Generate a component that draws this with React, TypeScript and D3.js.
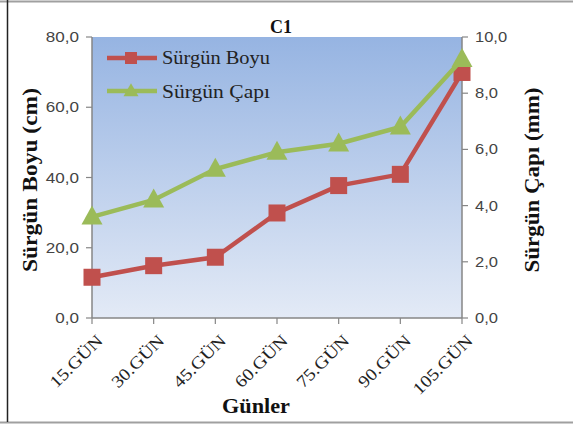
import React from "react";
import * as d3 from "d3";

const categories = ["15.GÜN", "30.GÜN", "45.GÜN", "60.GÜN", "75.GÜN", "90.GÜN", "105.GÜN"];
const boyuValues = [11.6, 14.9, 17.3, 29.9, 37.7, 40.9, 69.9];
const capValues = [3.6, 4.2, 5.3, 5.9, 6.2, 6.8, 9.2];
const leftTicks = [0, 20, 40, 60, 80];
const rightTicks = [0, 2, 4, 6, 8, 10];
const seriesNames = ["Sürgün Boyu", "Sürgün Çapı"];

const W = 573, H = 426;
const L = 92, R = 462, T = 37, B = 318;
const red = "#C0504D", green = "#9BBB59";
const axisCol = "#868686";
const sans = "'Liberation Sans', Arial, sans-serif";
const serif = "'Liberation Serif', 'Times New Roman', serif";

export default function App() {
  const x = d3.scalePoint<string>().domain(categories).range([L, R]);
  const yL = d3.scaleLinear().domain([0, 80]).range([B, T]);
  const yR = d3.scaleLinear().domain([0, 10]).range([B, T]);
  const lineL = d3.line<number>().x((_, i) => x(categories[i])!).y((d) => yL(d));
  const lineR = d3.line<number>().x((_, i) => x(categories[i])!).y((d) => yR(d));
  const tri = (w: number, h: number) => `M0,${-h * 0.6}L${w / 2},${h * 0.4}L${-w / 2},${h * 0.4}Z`;
  const sq = 17;
  const fmt = (v: number) => v.toFixed(1).replace(".", ",");

  return (
    <svg width={W} height={H} style={{ position: "absolute", left: 0, top: 0, background: "#fff" }}>
      <defs>
        <linearGradient id="bg" x1="0" y1="0" x2="0" y2="1">
          <stop offset="0" stopColor="#96B4E2" />
          <stop offset="1" stopColor="#E3EAF6" />
        </linearGradient>
      </defs>
      <rect x={0} y={0} width={W} height={H} fill="#fff" />
      <line x1={0} x2={W} y1={1.5} y2={1.5} stroke="#a0a0a0" strokeWidth={2} />
      <line x1={0} x2={W} y1={422.5} y2={422.5} stroke="#a0a0a0" strokeWidth={2} />
      <line x1={7.5} x2={7.5} y1={0} y2={422} stroke="#222" strokeWidth={1.5} />

      <rect x={L} y={T} width={R - L} height={B - T} fill="url(#bg)" />

      <line x1={L} x2={L} y1={T} y2={B} stroke={axisCol} strokeWidth={1.5} />
      <line x1={R} x2={R} y1={T} y2={B} stroke={axisCol} strokeWidth={1.5} />
      <line x1={L} x2={R} y1={B} y2={B} stroke={axisCol} strokeWidth={1.5} />
      {leftTicks.map((t) => (
        <g key={"l" + t}>
          <line x1={L - 6} x2={L} y1={yL(t)} y2={yL(t)} stroke={axisCol} strokeWidth={1.2} />
          <text transform={`translate(${L - 13},${yL(t) + 5}) scale(1.22,1)`} textAnchor="end" fontFamily={sans} fontSize={14} fill="#444">{fmt(t)}</text>
        </g>
      ))}
      {rightTicks.map((t) => (
        <g key={"r" + t}>
          <line x1={R} x2={R + 6} y1={yR(t)} y2={yR(t)} stroke={axisCol} strokeWidth={1.2} />
          <text transform={`translate(${R + 13},${yR(t) + 5}) scale(1.18,1)`} textAnchor="start" fontFamily={sans} fontSize={14} fill="#444">{fmt(t)}</text>
        </g>
      ))}
      {categories.map((c) => (
        <g key={c}>
          <line x1={x(c)} x2={x(c)} y1={B} y2={B + 6} stroke={axisCol} strokeWidth={1.2} />
          <text transform={`translate(${x(c)! + 3},${B + 15}) rotate(-45) scale(1.15,1)`} textAnchor="end" dy="0.72em"
            fontFamily={serif} fontSize={17} fill="#222">{c}</text>
        </g>
      ))}

      <path d={lineL(boyuValues)!} fill="none" stroke={red} strokeWidth={4.5} />
      {boyuValues.map((v, i) => (
        <rect key={"s" + i} x={x(categories[i])! - sq / 2} y={yL(v) - sq / 2} width={sq} height={sq} fill={red} />
      ))}
      <path d={lineR(capValues)!} fill="none" stroke={green} strokeWidth={4.5} />
      {capValues.map((v, i) => (
        <path key={"t" + i} d={tri(21, 19)} transform={`translate(${x(categories[i])},${yR(v)})`} fill={green} />
      ))}

      <line x1={107} x2={157} y1={58} y2={58} stroke={red} strokeWidth={4.5} />
      <rect x={131 - 6} y={58 - 6} width={12} height={12} fill={red} />
      <text x={162} y={64} textLength={108} lengthAdjust="spacingAndGlyphs" fontFamily={serif} fontSize={18} fill="#222">{seriesNames[0]}</text>
      <line x1={107} x2={157} y1={91} y2={91} stroke={green} strokeWidth={4.5} />
      <path d={tri(15, 13)} transform="translate(131,91)" fill={green} />
      <text x={162} y={98} textLength={108} lengthAdjust="spacingAndGlyphs" fontFamily={serif} fontSize={18} fill="#222">{seriesNames[1]}</text>

      <text x={281} y={33} textAnchor="middle" textLength={22} lengthAdjust="spacingAndGlyphs" fontFamily={serif} fontWeight="bold" fontSize={18} fill="#111">C1</text>
      <text transform={`translate(37,180) rotate(-90)`} textAnchor="middle" textLength={184} lengthAdjust="spacingAndGlyphs" fontFamily={serif} fontWeight="bold" fontSize={21} fill="#111">Sürgün Boyu (cm)</text>
      <text transform={`translate(539,180) rotate(-90)`} textAnchor="middle" textLength={185} lengthAdjust="spacingAndGlyphs" fontFamily={serif} fontWeight="bold" fontSize={21} fill="#111">Sürgün Çapı (mm)</text>
      <text x={256} y={413} textAnchor="middle" textLength={68} lengthAdjust="spacingAndGlyphs" fontFamily={serif} fontWeight="bold" fontSize={20} fill="#111">Günler</text>
    </svg>
  );
}
